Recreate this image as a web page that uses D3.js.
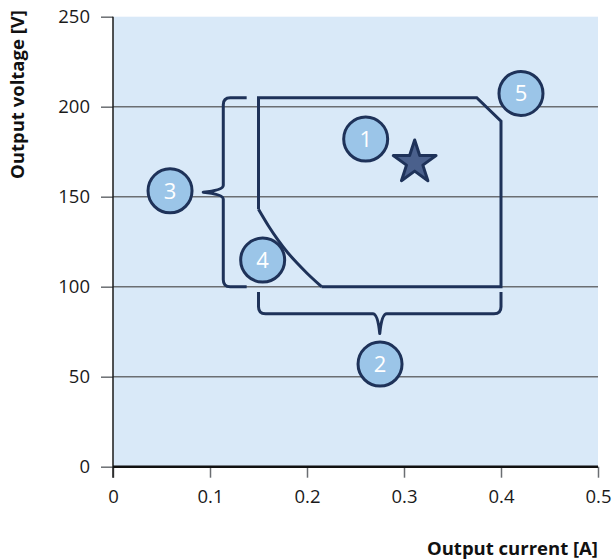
<!DOCTYPE html>
<html><head><meta charset="utf-8">
<script src="https://cdn.jsdelivr.net/npm/d3@7"></script>
<style>body{margin:0;background:#fff}</style>
</head><body><svg id="c" width="616" height="559"></svg>
<script>
// ---- data ----
const xTicks = [0, 0.1, 0.2, 0.3, 0.4, 0.5];
const xTickLabels = ["0", "0.1", "0.2", "0.3", "0.4", "0.5"];
const yTicks = [0, 50, 100, 150, 200, 250];
const yTickLabels = ["0", "50", "100", "150", "200", "250"];
const gridValues = [50, 100, 150, 200];
// operating area outline: straight part [current A, voltage V]
const edgeCurrent = [0.215, 0.40, 0.40, 0.375, 0.15, 0.15];
const edgeVoltage = [100, 100, 192, 205, 205, 143];
// constant-power edge
const powerCurrent = [0.15, 0.16, 0.17, 0.18, 0.19, 0.20, 0.215];
const powerVoltage = [143, 134, 126, 119, 113, 107.5, 100];
// numbered markers
const markerLabels = ["1", "2", "3", "4", "5"];
const markerCurrent = [0.2605, 0.2753, 0.0588, 0.1543, 0.4206];
const markerVoltage = [182, 57, 153.3, 114.8, 207.4];
// operating point star
const starCurrent = [0.311];
const starVoltage = [169];
// brace for voltage range (marker 3): [line x, tip x, arm end x] and [low V, high V]
const voltBraceCurrent = [0.1137, 0.093, 0.1378];
const voltBraceVoltage = [100, 205];
// brace for current range (marker 2): [low A, high A] and [line V, tip V, arm end V]
const currBraceCurrent = [0.15, 0.40];
const currBraceVoltage = [85, 74, 97];

// ---- drawing ----
const svg = d3.select("#c");
const x = d3.scaleLinear().domain([0, 0.5]).range([113, 598]);
const y = d3.scaleLinear().domain([0, 250]).range([466.7, 16.7]);
const navy = "#1e3259";
const font = "'Open Sans', sans-serif";

svg.append("rect").attr("x", x(0)).attr("y", y(250))
  .attr("width", x(0.5) - x(0)).attr("height", y(0) - y(250))
  .attr("fill", "#d9e9f8");

// gridlines
svg.append("g").selectAll("line").data(gridValues).join("line")
  .attr("x1", x(0)).attr("x2", x(0.5))
  .attr("y1", d => y(d)).attr("y2", d => y(d))
  .attr("stroke", "#6b6e72").attr("stroke-width", 1.5);

// y axis
const yAxis = d3.axisLeft(y).tickValues(yTicks)
  .tickFormat((d, i) => yTickLabels[i]).tickSize(12).tickPadding(11);
const gy = svg.append("g").attr("transform", `translate(${x(0)},0)`).call(yAxis);
gy.select(".domain").remove();
gy.selectAll(".tick line").attr("stroke", "#6b6e72").attr("stroke-width", 1.5);
gy.selectAll(".tick text").attr("font-family", font).attr("font-size", 18.5).attr("fill", "#1a1a1a");

// x axis
const xAxis = d3.axisBottom(x).tickValues(xTicks)
  .tickFormat((d, i) => xTickLabels[i]).tickSize(11).tickPadding(12);
const gx = svg.append("g").attr("transform", `translate(0,${y(0)})`).call(xAxis);
gx.select(".domain").remove();
gx.selectAll(".tick line").attr("stroke", "#6b6e72").attr("stroke-width", 1.5);
gx.selectAll(".tick text").attr("font-family", font).attr("font-size", 18.5).attr("fill", "#1a1a1a");

// axis lines
svg.append("line").attr("x1", x(0)).attr("x2", x(0)).attr("y1", y(250)).attr("y2", y(0) + 11)
  .attr("stroke", "#1a1a1a").attr("stroke-width", 1.5);
svg.append("line").attr("x1", x(0)).attr("x2", x(0.5)).attr("y1", y(0)).attr("y2", y(0))
  .attr("stroke", "#111").attr("stroke-width", 2.5);

// axis titles
svg.append("text").attr("x", 598).attr("y", 555).attr("text-anchor", "end")
  .attr("font-family", font).attr("font-weight", "bold").attr("font-size", 18.5)
  .attr("fill", "#111").text("Output current [A]");
svg.append("text").attr("transform", "translate(24,10) rotate(-90)").attr("text-anchor", "end")
  .attr("font-family", font).attr("font-weight", "bold").attr("font-size", 18.5)
  .attr("fill", "#111").text("Output voltage [V]");

// operating area
const edgePts = edgeCurrent.map((c, i) => [x(c), y(edgeVoltage[i])]);
svg.append("path").attr("d", d3.line()(edgePts))
  .attr("fill", "none").attr("stroke", navy).attr("stroke-width", 3)
  .attr("stroke-linejoin", "miter");
const powPts = powerCurrent.map((c, i) => [x(c), y(powerVoltage[i])]);
svg.append("path").attr("d", d3.line().curve(d3.curveCatmullRom)(powPts))
  .attr("fill", "none").attr("stroke", navy).attr("stroke-width", 3);

// braces
const r = 7, nh = 7;
{
  const vx = x(voltBraceCurrent[0]), tx = x(voltBraceCurrent[1]), ax = x(voltBraceCurrent[2]);
  const yt = y(voltBraceVoltage[1]), yb = y(voltBraceVoltage[0]), ym = (yt + yb) / 2;
  const p = d3.path();
  p.moveTo(ax, yt);
  p.lineTo(vx + r, yt);
  p.quadraticCurveTo(vx, yt, vx, yt + r);
  p.lineTo(vx, ym - nh);
  p.quadraticCurveTo(vx, ym - 2, tx, ym);
  p.quadraticCurveTo(vx, ym + 2, vx, ym + nh);
  p.lineTo(vx, yb - r);
  p.quadraticCurveTo(vx, yb, vx + r, yb);
  p.lineTo(ax, yb);
  svg.append("path").attr("d", p.toString()).attr("fill", "none")
    .attr("stroke", navy).attr("stroke-width", 3).attr("stroke-linejoin", "round");
}
{
  const x0 = x(currBraceCurrent[0]), x1 = x(currBraceCurrent[1]), xm = (x0 + x1) / 2;
  const hy = y(currBraceVoltage[0]), ty = y(currBraceVoltage[1]), ay = y(currBraceVoltage[2]);
  const p = d3.path();
  p.moveTo(x0, ay);
  p.lineTo(x0, hy - r);
  p.quadraticCurveTo(x0, hy, x0 + r, hy);
  p.lineTo(xm - nh, hy);
  p.quadraticCurveTo(xm - 2, hy, xm, ty);
  p.quadraticCurveTo(xm + 2, hy, xm + nh, hy);
  p.lineTo(x1 - r, hy);
  p.quadraticCurveTo(x1, hy, x1, hy - r);
  p.lineTo(x1, ay);
  svg.append("path").attr("d", p.toString()).attr("fill", "none")
    .attr("stroke", navy).attr("stroke-width", 3).attr("stroke-linejoin", "round");
}

// star
const starR = 22.5;
svg.append("g").selectAll("path").data(starCurrent).join("path")
  .attr("transform", (d, i) => `translate(${x(d)},${y(starVoltage[i])})`)
  .attr("d", d3.symbol().type(d3.symbolStar).size(starR * starR / 0.8908130915292852)())
  .attr("fill", "#4a608c").attr("stroke", navy).attr("stroke-width", 3).attr("stroke-linejoin", "round");

// markers
const mg = svg.append("g").selectAll("g").data(markerLabels).join("g")
  .attr("transform", (d, i) => `translate(${x(markerCurrent[i])},${y(markerVoltage[i])})`);
mg.append("circle").attr("r", 22).attr("fill", "#9bc5e8").attr("stroke", navy).attr("stroke-width", 3);
mg.append("text").attr("text-anchor", "middle").attr("dy", "0.36em")
  .attr("font-family", font).attr("font-size", 22).attr("fill", "#fff").text(d => d);
</script></body></html>
